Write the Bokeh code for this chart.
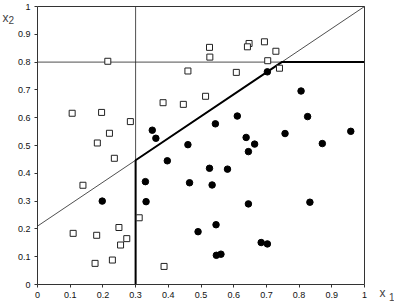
from bokeh.plotting import figure
from bokeh.models import Range1d, FixedTicker, Label, LinearAxis
from bokeh.embed import file_html
from bokeh.resources import INLINE

# open squares (class 0)
sq_x = [0.215, 0.526, 0.527, 0.647, 0.642, 0.694, 0.729, 0.704, 0.740, 0.608,
        0.460, 0.514, 0.384, 0.446, 0.106, 0.196, 0.284, 0.220, 0.183, 0.235,
        0.139, 0.311, 0.109, 0.181, 0.249, 0.273, 0.254, 0.229, 0.176, 0.387]
sq_y = [0.803, 0.853, 0.818, 0.867, 0.855, 0.873, 0.839, 0.805, 0.778, 0.763,
        0.768, 0.677, 0.654, 0.648, 0.616, 0.619, 0.586, 0.544, 0.509, 0.454,
        0.357, 0.240, 0.184, 0.177, 0.205, 0.165, 0.142, 0.088, 0.076, 0.065]
# filled dots (class 1)
dot_x = [0.703, 0.806, 0.351, 0.362, 0.544, 0.611, 0.638, 0.664, 0.645, 0.460,
         0.397, 0.526, 0.581, 0.330, 0.332, 0.465, 0.534, 0.826, 0.757, 0.871,
         0.958, 0.198, 0.645, 0.833, 0.546, 0.491, 0.684, 0.703, 0.547, 0.561]
dot_y = [0.765, 0.696, 0.555, 0.526, 0.578, 0.606, 0.529, 0.505, 0.478, 0.503,
         0.445, 0.418, 0.415, 0.370, 0.298, 0.366, 0.358, 0.604, 0.543, 0.507,
         0.551, 0.300, 0.290, 0.296, 0.215, 0.190, 0.151, 0.146, 0.105, 0.109]

# decision boundaries
x1_cut = 0.3
x2_cut = 0.8
diag_intercept = 0.21
diag_slope = 0.79

ticks = [0, 0.1, 0.2, 0.3, 0.4, 0.5, 0.6, 0.7, 0.8, 0.9, 1]
tick_labels = ["0", "0.1", "0.2", "0.3", "0.4", "0.5", "0.6", "0.7", "0.8", "0.9", "1"]

W, H = 394, 303
L, R, T, B = 37, 30, 6, 19
fw, fh = W - L - R, H - T - B

p = figure(width=W, height=H, output_backend="svg", toolbar_location=None, title=None,
           x_range=Range1d(-L / fw, 1 + R / fw), y_range=Range1d(-B / fh, 1 + T / fh),
           x_axis_location=None, y_axis_location=None,
           min_border_left=0, min_border_right=0, min_border_top=0, min_border_bottom=0)
p.xgrid.visible = False
p.ygrid.visible = False
p.outline_line_color = None
p.background_fill_color = "white"
p.border_fill_color = "white"

overrides = {t: l for t, l in zip(ticks, tick_labels)}
xax = LinearAxis(fixed_location=0, bounds=(0, 1))
yax = LinearAxis(fixed_location=0, bounds=(0, 1))
for ax in (xax, yax):
    ax.ticker = FixedTicker(ticks=ticks)
    ax.major_label_overrides = overrides
    ax.minor_tick_line_color = None
    ax.major_tick_in = 0
    ax.major_tick_out = 3
    ax.axis_line_color = "#333333"
    ax.major_tick_line_color = "#333333"
    ax.major_label_text_font = "Liberation Sans"
    ax.major_label_text_font_size = "9px"
    ax.major_label_text_color = "#111111"
    ax.major_label_standoff = 4
p.add_layout(xax, "below")
p.add_layout(yax, "left")
# top and right frame sides
for side in ("above", "right"):
    fax = LinearAxis(fixed_location=1, bounds=(0, 1), ticker=FixedTicker(ticks=[]),
                     major_tick_line_color=None, minor_tick_line_color=None,
                     axis_line_color="#333333")
    p.add_layout(fax, side)

# thin full lines
p.line([0, 1], [diag_intercept, diag_intercept + diag_slope], line_color="#222222", line_width=0.8)
p.line([0, 1], [x2_cut, x2_cut], line_color="#222222", line_width=0.8)
p.line([x1_cut, x1_cut], [0, 1], line_color="#222222", line_width=0.8)

# thick boundary
y_at_cut = diag_intercept + diag_slope * x1_cut
x_at_top = (x2_cut - diag_intercept) / diag_slope
p.line([x1_cut, x1_cut, x_at_top, 1], [0, y_at_cut, x2_cut, x2_cut],
       line_color="black", line_width=2)

p.scatter(sq_x, sq_y, marker="square", size=6, fill_color="white",
          line_color="#222222", line_width=1)
p.scatter(dot_x, dot_y, marker="circle", size=6.5, fill_color="black",
          line_color="black")

def lab(x, y, txt, size):
    p.add_layout(Label(x=x, y=y, text=txt, text_font="Liberation Sans",
                       text_font_size=size, text_baseline="alphabetic"))

lab(-0.107, 0.960, "x", "12px")
lab(-0.0887, 0.951, "2", "10px")
lab(1.0459, -0.0313, "x", "12px")
lab(1.0749, -0.0457, "1", "10px")

open("out.html", "w").write(file_html(p, INLINE))
